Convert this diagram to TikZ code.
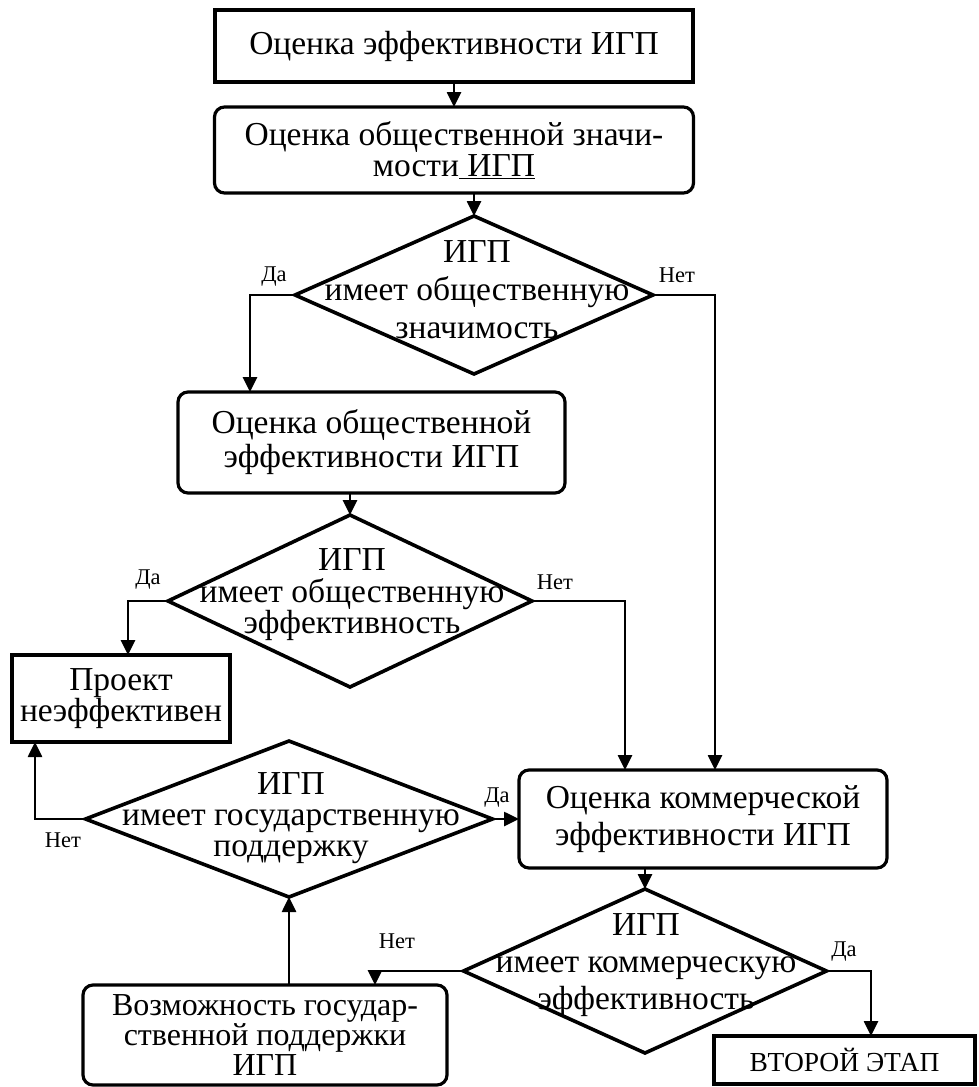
\documentclass[tikz,border=0pt]{standalone}
\usepackage{fontspec}
\setmainfont{Liberation Serif}
\usetikzlibrary{shapes.geometric,arrows.meta}

\begin{document}
\begin{tikzpicture}[x=1pt,y=-1pt,
  box/.style={draw,line width=3.2pt,inner sep=0pt,outer sep=0pt,align=center,
              font=\fontsize{33.5}{34}\selectfont},
  rbox/.style={box,rounded corners=10pt},
  cond/.style={draw,shape=diamond,line width=3.6pt,inner sep=0pt,outer sep=0pt},
  condtext/.style={align=center,inner sep=0pt},
  lbl/.style={font=\fontsize{22.5}{24}\selectfont,inner sep=0pt},
  ln/.style={line width=2.6pt},
  arr/.style={ln,-{Triangle[length=15pt,width=14pt]}}
]
\useasboundingbox (0,0) rectangle (979,1087);

% process boxes
\node[box,minimum width=478pt,minimum height=72pt] (b1) at (454,46)
  {Оценка эффективности ИГП};
\node[rbox,minimum width=479pt,minimum height=86pt,
      font=\fontsize{33.5}{31}\selectfont] (b2) at (454,150)
  {Оценка общественной значи-\\мости\underline{\ ИГП}};
\node[rbox,minimum width=387pt,minimum height=101pt] (b3) at (371.5,442.5)
  {Оценка общественной\\эффективности ИГП};
\node[box,minimum width=218pt,minimum height=87pt,
      font=\fontsize{33.5}{31}\selectfont] (b4) at (121,698.5)
  {Проект\\неэффективен};
\node[rbox,minimum width=368pt,minimum height=98pt,
      font=\fontsize{33.5}{37}\selectfont] (b5) at (703,819)
  {Оценка коммерческой\\эффективности ИГП};
\node[box,minimum width=261pt,minimum height=48pt,
      font=\fontsize{27.5}{29}\selectfont] (b6) at (844.5,1060)
  {ВТОРОЙ ЭТАП};
\node[rbox,minimum width=364pt,minimum height=100pt,
      font=\fontsize{32}{30}\selectfont] (b7) at (265,1035)
  {Возможность государ-\\ственной поддержки\\ИГП};

% decisions
\node[cond,minimum width=358pt,minimum height=158pt] (d1) at (474,295) {};
\node[condtext,font=\fontsize{33.5}{38}\selectfont] (t1) at (477,290)
  {ИГП\\имеет общественную\\значимость};
\node[cond,minimum width=364pt,minimum height=172pt] (d2) at (350,601) {};
\node[condtext,font=\fontsize{33.5}{31.5}\selectfont] (t2) at (352,595)
  {ИГП\\имеет общественную\\эффективность};
\node[cond,minimum width=407pt,minimum height=156pt] (d3) at (289,819) {};
\node[condtext,font=\fontsize{33.5}{31}\selectfont] (t3) at (291,818)
  {ИГП\\имеет государственную\\поддержку};
\node[cond,minimum width=363pt,minimum height=164pt] (d4) at (645,971) {};
\node[condtext,font=\fontsize{33.5}{37}\selectfont] (t4) at (646,965)
  {ИГП\\имеет коммерческую\\эффективность};

% branch labels
\node[lbl] (y1) at (274,277) {Да};
\node[lbl] (n1) at (677,275) {Нет};
\node[lbl] (y2) at (148,580) {Да};
\node[lbl] (n2) at (555,582) {Нет};
\node[lbl] (n3) at (63,840) {Нет};
\node[lbl] (y3) at (497,798) {Да};
\node[lbl] (n4) at (397,941) {Нет};
\node[lbl] (y4) at (844,952) {Да};

% elbow points
\coordinate (k1) at (250,295);
\coordinate (k2) at (715,295);
\coordinate (k3) at (128,601);
\coordinate (k4) at (625,601);
\coordinate (k5) at (35,819);
\coordinate (k6) at (375,971);
\coordinate (k7) at (871,971);

% connectors
\draw[arr] (b1.south) -- (b2.north);
\draw[arr] (b2.south -| d1.north) -- (d1.north);
\draw[arr] (d1.west) -- (k1) -- (k1 |- b3.north);
\draw[arr] (d1.east) -- (k2) -- (k2 |- b5.north);
\draw[arr] (b3.south -| d2.north) -- (d2.north);
\draw[arr] (d2.west) -- (k3) -- (k3 |- b4.north);
\draw[arr] (d2.east) -- (k4) -- (k4 |- b5.north);
\draw[arr] (d3.west) -- (k5) -- (k5 |- b4.south);
\draw[arr] (d3.east) -- (d3.east -| b5.west);
\draw[arr] (b7.north -| d3.south) -- (d3.south);
\draw[arr] (b5.south -| d4.north) -- (d4.north);
\draw[arr] (d4.west) -- (k6) -- (k6 |- b7.north);
\draw[arr] (d4.east) -- (k7) -- (k7 |- b6.north);
\end{tikzpicture}
\end{document}
